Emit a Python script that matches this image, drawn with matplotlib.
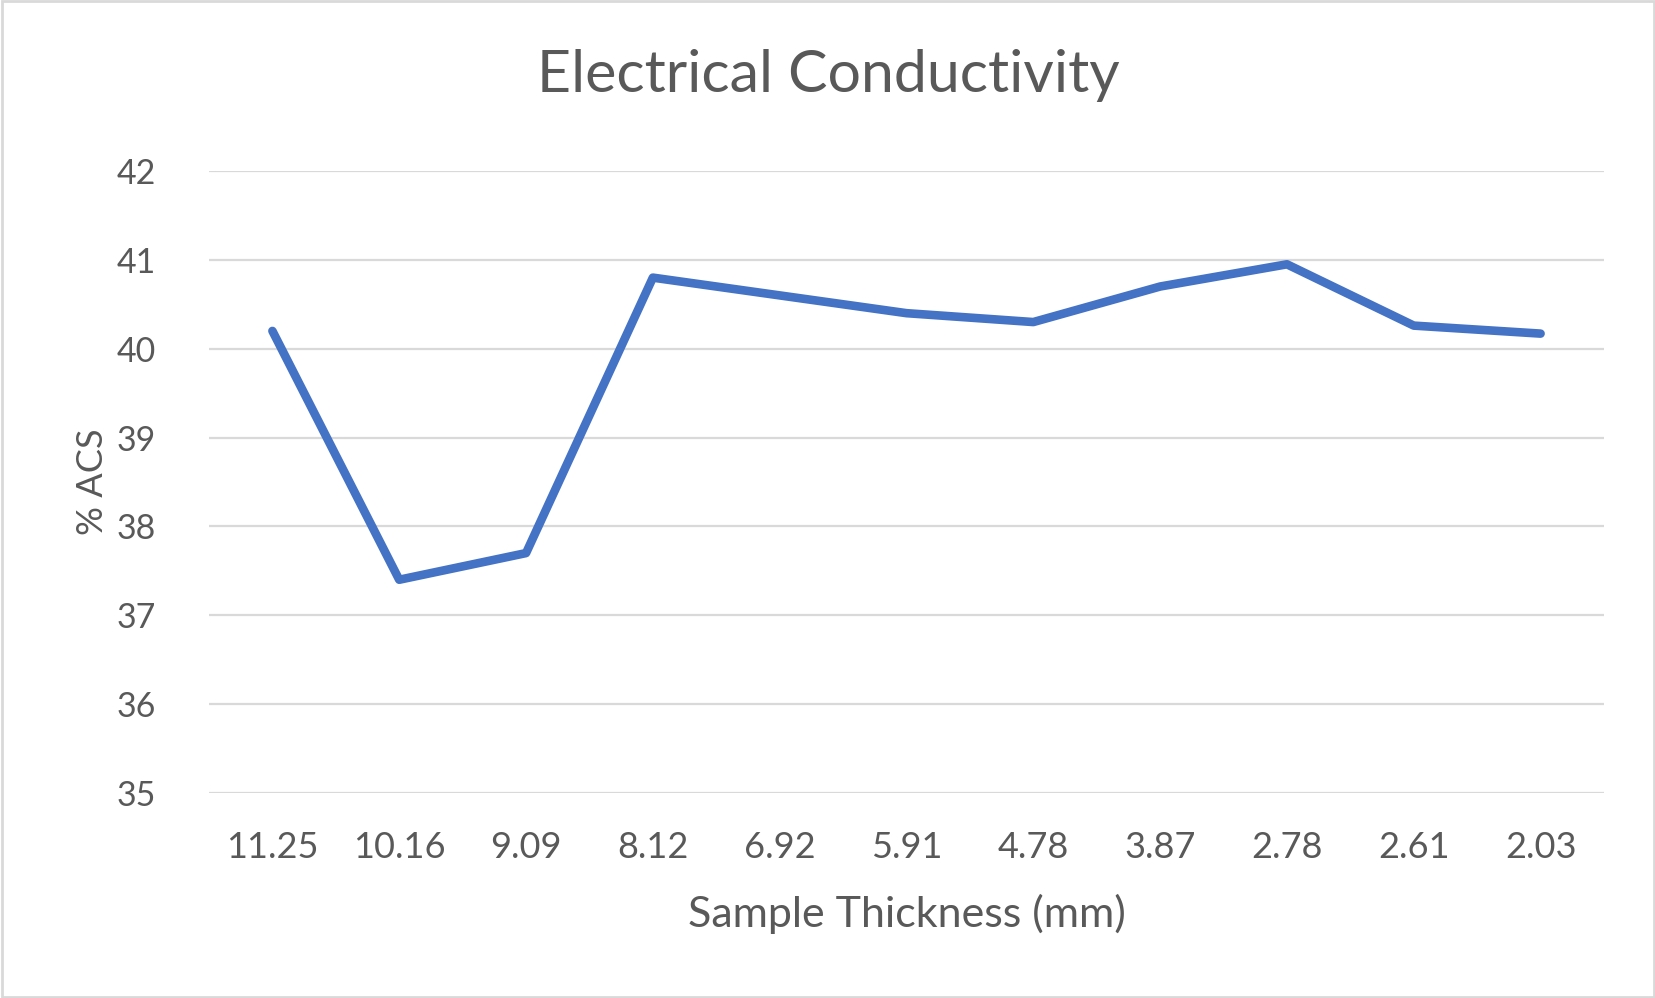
import matplotlib
matplotlib.use("Agg")
import matplotlib.pyplot as plt
from matplotlib.patches import Rectangle

categories = ["11.25", "10.16", "9.09", "8.12", "6.92", "5.91", "4.78", "3.87", "2.78", "2.61", "2.03"]
values = [40.2, 37.4, 37.7, 40.8, 40.6, 40.4, 40.3, 40.7, 40.95, 40.26, 40.17]
yticks = [35, 36, 37, 38, 39, 40, 41, 42]

plt.rcParams['font.family'] = ['Lato', 'DejaVu Sans']
txt = '#595959'

fig = plt.figure(figsize=(16.56, 9.98), dpi=100)
ax = fig.add_axes([209/1656, 1 - 793/998, (1604-209)/1656, (793-171)/998])

x = list(range(len(categories)))
ax.plot(x, values, color='#4472C4', linewidth=6.2, solid_capstyle='round', solid_joinstyle='round', zorder=3)

ax.set_xlim(-0.5, len(categories) - 0.5)
ax.set_ylim(35, 42)
ax.set_yticks(yticks)
ax.set_yticklabels([str(t) for t in yticks])
ax.set_xticks(x)
ax.set_xticklabels(categories)
ax.grid(axis='y', color='#D9D9D9', linewidth=1.6)
ax.set_axisbelow(True)
for s in ax.spines.values():
    s.set_visible(False)
ax.tick_params(axis='y', length=0, labelsize=24.5, colors=txt, labelcolor=txt, pad=38)
ax.tick_params(axis='x', length=0, labelsize=26, colors=txt, labelcolor=txt, pad=27)

ax.set_xlabel("Sample Thickness (mm)", fontsize=31, color=txt, labelpad=22)
ax.set_ylabel("% ACS", fontsize=26, color=txt, labelpad=6)
fig.text(0.5, 1 - 76/998, "Electrical Conductivity", ha='center', va='center', fontsize=42.5, color=txt)

fig.patches.append(Rectangle((0.001, 0.001), 0.998, 0.998, transform=fig.transFigure,
                             fill=False, edgecolor='#D9D9D9', linewidth=2))

fig.savefig("out.png", dpi=100, facecolor='white')
